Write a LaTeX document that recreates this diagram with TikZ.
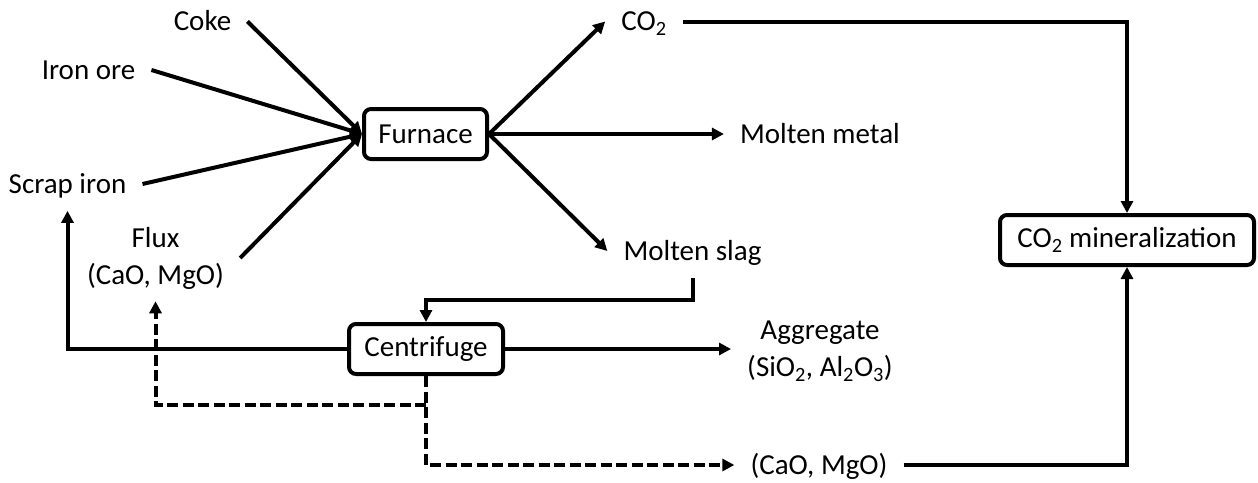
\documentclass[tikz,border=0pt]{standalone}
\usepackage{fontspec}
\setmainfont{Carlito}
\usetikzlibrary{arrows.meta}
\begin{document}
\begin{tikzpicture}[x=1pt,y=-1pt,
  every node/.style={font=\fontsize{29}{37}\selectfont},
  lbl/.style={inner xsep=16pt, inner ysep=17.5pt, text height=18.3pt, text depth=0pt},
  multi/.style={align=center, inner xsep=16pt, inner ysep=12pt},
  box/.style={draw, line width=4pt, rounded corners=7pt, minimum height=50pt, inner sep=0pt},
  conn/.style={line width=4pt},
  arr/.style={conn, -{Triangle[length=12pt,width=12pt]}},
  dsh/.style={dash pattern=on 11pt off 4.5pt}]
\useasboundingbox (0,0) rectangle (1258,482);

% inputs
\node[lbl] (coke)  at (202.5,21.5) {Coke};
\node[lbl] (iron)  at (88.5,70)    {Iron ore};
\node[lbl] (scrap) at (67.5,184)   {Scrap iron};
\node[multi] (flux) at (155.5,258) {Flux\\(CaO, MgO)};

% process boxes
\node[box, minimum width=123pt] (furnace) at (425.5,134) {Furnace};
\node[box, minimum width=154pt] (cent)    at (426,349)   {Centrifuge};
\node[box, minimum width=254pt] (mineral) at (1127,240)  {CO\textsubscript{2} mineralization};

% products
\node[lbl] (co2)    at (644,21.5) {CO\textsubscript{2}};
\node[lbl] (metal)  at (820,134)  {Molten metal};
\node[lbl] (slag)   at (692.5,251) {Molten slag};
\node[multi] (agg)  at (820,351)  {Aggregate\\(SiO\textsubscript{2}, Al\textsubscript{2}O\textsubscript{3})};
\node[lbl] (lowcao) at (819,465)  {(CaO, MgO)};

% furnace feeds
\draw[arr] (coke.east)  -- (furnace.west);
\draw[arr] (iron.east)  -- (furnace.west);
\draw[arr] (scrap.east) -- (furnace.west);
\draw[arr] (flux.east)  -- (furnace.west);

% furnace outputs
\draw[arr] (furnace.east) -- (co2.west);
\draw[arr] (furnace.east) -- (metal.west);
\draw[arr] (furnace.east) -- (slag.west);

% slag to centrifuge and its products
\draw[arr] (slag.south) -- ++(0,22) -| (cent.north);
\draw[arr] (cent.east) -- (cent.east -| agg.west);
\draw[arr] (cent.west) -| (scrap.south);
\draw[arr, dsh] (cent.south) |- (lowcao.west);
\path (cent.south) ++(0,29) coordinate (split);
\draw[arr, dsh] (split) -| (flux.south);

% streams into mineralization
\draw[arr] (co2.east) -| (mineral.north);
\draw[arr] (lowcao.east) -| (mineral.south);
\end{tikzpicture}
\end{document}
